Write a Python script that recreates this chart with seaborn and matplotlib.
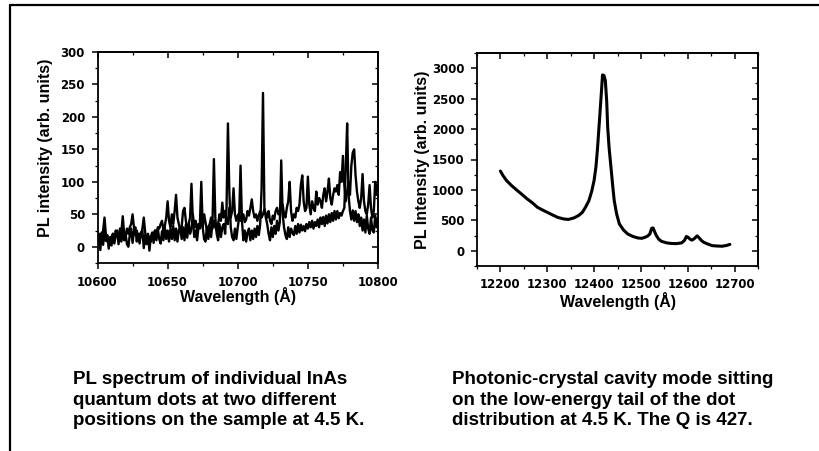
import numpy as np
import pandas as pd
import matplotlib
matplotlib.use("Agg")
import matplotlib.pyplot as plt
from matplotlib.lines import Line2D
from matplotlib.ticker import MultipleLocator
import seaborn as sns

sns.set_theme(style="white")
plt.rcParams['font.family'] = ['Liberation Sans', 'DejaVu Sans']
plt.rcParams['text.color'] = 'black'
plt.rcParams['axes.labelcolor'] = 'black'
plt.rcParams['xtick.color'] = 'black'
plt.rcParams['ytick.color'] = 'black'

# ---------------- data: left panel (two quantum-dot spectra) ----------------
wl_left = list(range(10600, 10801))
dot_a = [8, 20, -5, 22, 3, 25, 9, 18, -3, 15,
         2, 20, 5, 18, 25, 4, 22, 8, 26, 10,
         20, 4, 0, 18, 28, 6, 24, 30, 8, 20,
         5, 22, 25, -2, 18, 4, 20, -6, 15, 22,
         6, 25, 10, 28, 12, 5, 24, 10, 30, 12,
         25, 8, 28, 12, 32, 10, 28, 8, 26, 30,
         12, 30, 10, 34, 14, 35, 45, 97, 40, 15,
         25, 10, 30, 35, 100, 30, 12, 8, 30, 12,
         32, 15, 38, 135, 45, 20, 10, 35, 15, 30,
         35, 20, 60, 190, 85, 30, 15, 10, 28, 12,
         30, 45, 125, 40, 10, 25, 8, 22, 28, 10,
         25, 12, 28, 15, 32, 18, 35, 90, 237, 60,
         45, 35, 20, 10, 30, 15, 32, 20, 40, 25,
         38, 133, 50, 30, 18, 12, 30, 15, 28, 22,
         18, 32, 20, 35, 22, 34, 25, 32, 24, 35,
         28, 38, 30, 40, 28, 38, 32, 42, 30, 45,
         35, 46, 32, 48, 36, 50, 38, 52, 40, 55,
         42, 55, 44, 52, 48, 55, 60, 120, 190, 80,
         55, 42, 56, 40, 55, 38, 50, 32, 45, 25,
         42, 22, 48, 28, 20, 45, 25, 22, 48, 30,
         45]
dot_b = [5, 15, 20, 10, 25, 45, 18, 8, 12, 5,
         15, 20, 10, 25, 18, 12, 28, 22, 47, 20,
         15, 28, 20, 30, 35, 50, 30, 18, 25, 12,
         20, 15, 28, 45, 22, 10, 18, 12, 8, 15,
         20, 25, 18, 30, 28, 35, 40, 25, 32, 45,
         70, 40, 30, 50, 35, 55, 80, 45, 35, 25,
         30, 55, 60, 40, 25, 35, 20, 28, 50, 30,
         40, 25, 35, 28, 45, 30, 50, 38, 25, 30,
         35, 45, 28, 40, 30, 25, 35, 50, 40, 68,
         45, 55, 40, 35, 60, 45, 55, 90, 50, 40,
         48, 52, 40, 45, 50, 38, 42, 55, 48, 60,
         73, 55, 45, 50, 40, 48, 55, 45, 50, 58,
         50, 45, 55, 40, 35, 48, 42, 55, 60, 50,
         55, 60, 65, 50, 45, 60, 70, 100, 55, 40,
         50, 45, 60, 55, 65, 95, 110, 70, 55, 60,
         108, 65, 50, 70, 60, 55, 85, 65, 75, 70,
         60, 80, 90, 70, 85, 105, 75, 65, 80, 90,
         85, 95, 80, 115, 100, 140, 95, 70, 85, 100,
         80, 125, 145, 150, 110, 85, 70, 60, 75, 112,
         70, 55, 50, 65, 95, 60, 45, 55, 100, 80,
         95]

# ---------------- data: right panel (cavity mode) ----------------
wl_right = [12200, 12206, 12213, 12224, 12236, 12247, 12257, 12268, 12279, 12290,
            12300, 12311, 12322, 12335, 12345, 12357, 12367, 12375, 12382, 12389,
            12395, 12400, 12404, 12407, 12410, 12413, 12416, 12418, 12421, 12424,
            12427, 12429, 12432, 12436, 12440, 12443, 12448, 12454, 12463, 12472,
            12483, 12494, 12502, 12508, 12514, 12519, 12523, 12526, 12530, 12533,
            12538, 12544, 12555, 12565, 12576, 12587, 12593, 12597, 12601, 12605,
            12609, 12614, 12620, 12624, 12629, 12634, 12643, 12652, 12663, 12674,
            12684, 12690]
pl_right = [1310, 1230, 1155, 1070, 990, 920, 853, 790, 715, 670,
            632, 590, 550, 523, 515, 540, 580, 632, 720, 825,
            980, 1155, 1380, 1650, 1980, 2310, 2650, 2890, 2880, 2800,
            2450, 2035, 1700, 1375, 1050, 825, 610, 440, 340, 275,
            235, 210, 205, 220, 240, 275, 370, 375, 300, 250,
            190, 155, 130, 120, 118, 130, 170, 235, 220, 190,
            175, 200, 245, 215, 170, 140, 110, 85, 78, 75,
            90, 105]

xtick_left = [10600, 10650, 10700, 10750, 10800]
ytick_left = [0, 50, 100, 150, 200, 250, 300]
xtick_right = [12200, 12300, 12400, 12500, 12600, 12700]
ytick_right = [0, 500, 1000, 1500, 2000, 2500, 3000]

left_df = pd.DataFrame({"wl": wl_left + wl_left,
                        "pl": dot_a + dot_b,
                        "dot": ["A"] * len(wl_left) + ["B"] * len(wl_left)})
right_df = pd.DataFrame({"wl": wl_right, "pl": pl_right})

# ---------------- figure ----------------
W, H = 819, 451
fig = plt.figure(figsize=(W / 100, H / 100), dpi=100)
fig.patch.set_facecolor("white")


def box(x0, y0, x1, y1):
    return [x0 / W, 1 - y1 / H, (x1 - x0) / W, (y1 - y0) / H]


axL = fig.add_axes(box(97.5, 52, 378, 263))
axR = fig.add_axes(box(477, 53, 758, 266))

sns.lineplot(data=left_df, x="wl", y="pl", units="dot", estimator=None,
             color="black", lw=1.7, ax=axL, legend=False)
sns.lineplot(data=right_df, x="wl", y="pl", color="black", lw=2.2, ax=axR,
             legend=False)

TICKFONT = ['DejaVu Sans']


def style(ax, xt, yt, xminor, yminor, xlim, ylim):
    ax.set_facecolor("white")
    ax.grid(False)
    ax.set_xlim(*xlim)
    ax.set_ylim(*ylim)
    for s in ax.spines.values():
        s.set_visible(True)
        s.set_color("black")
        s.set_linewidth(1.3)
    ax.set_xticks(xt)
    ax.set_yticks(yt)
    ax.xaxis.set_minor_locator(MultipleLocator(xminor))
    ax.yaxis.set_minor_locator(MultipleLocator(yminor))
    ax.tick_params(which="both", direction="out", bottom=True, left=True,
                   top=False, right=False, colors="black")
    ax.tick_params(which="major", length=4, width=1.1, pad=5)
    ax.tick_params(which="minor", length=2.5, width=0.9)
    ax.set_xticklabels([str(v) for v in xt], fontsize=8.5, fontweight="bold",
                       family=TICKFONT)
    ax.set_yticklabels([str(v) for v in yt], fontsize=8.5, fontweight="bold",
                       family=TICKFONT)
    # mirrored inward ticks on top / right
    top = ax.secondary_xaxis('top')
    top.set_xticks(xt)
    top.xaxis.set_minor_locator(MultipleLocator(xminor))
    top.tick_params(which="both", direction="in", labeltop=False, colors="black")
    top.tick_params(which="major", length=4, width=1.1)
    top.tick_params(which="minor", length=2.5, width=0.9)
    top.spines['top'].set_linewidth(1.3)
    right = ax.secondary_yaxis('right')
    right.set_yticks(yt)
    right.yaxis.set_minor_locator(MultipleLocator(yminor))
    right.tick_params(which="both", direction="in", labelright=False, colors="black")
    right.tick_params(which="major", length=4, width=1.1)
    right.tick_params(which="minor", length=2.5, width=0.9)
    right.spines['right'].set_linewidth(1.3)


style(axL, xtick_left, ytick_left, 25, 25, (10600, 10800), (-25, 300))
style(axR, xtick_right, ytick_right, 50, 250, (12150, 12750), (-250, 3250))

label_font = dict(fontsize=11.5, fontweight="bold")
axL.set_xlabel("Wavelength (Å)", va="center", **label_font)
axL.xaxis.set_label_coords(0.5, (263 - 296) / 211)
axL.set_ylabel("PL intensity (arb. units)", va="center", **label_font)
axL.yaxis.set_label_coords((46 - 97.5) / 280.5, 0.547)
axR.set_xlabel("Wavelength (Å)", va="center", **label_font)
axR.xaxis.set_label_coords(0.5, (266 - 301) / 213)
axR.set_ylabel("PL Intensity (arb. units)", va="center", **label_font)
axR.yaxis.set_label_coords((422.5 - 477) / 281, 0.498)

cap_left = ["PL spectrum of individual InAs",
            "quantum dots at two different",
            "positions on the sample at 4.5 K."]
cap_right = ["Photonic-crystal cavity mode sitting",
             "on the low-energy tail of the dot",
             "distribution at 4.5 K. The Q is 427."]
baselines = [384, 405, 425]
for txt_l, txt_r, yb in zip(cap_left, cap_right, baselines):
    fig.text(73 / W, 1 - yb / H, txt_l, fontsize=13.5, fontweight="bold",
             va="baseline", ha="left", color="black")
    fig.text(452 / W, 1 - yb / H, txt_r, fontsize=13.5, fontweight="bold",
             va="baseline", ha="left", color="black")

# frame lines (top and left)
fig.add_artist(Line2D([10 / W, 1], [1 - 4.5 / H, 1 - 4.5 / H], color="black",
                      lw=1.6, transform=fig.transFigure))
fig.add_artist(Line2D([10 / W, 10 / W], [0, 1 - 4.5 / H], color="black",
                      lw=1.6, transform=fig.transFigure))

fig.savefig("out.png", dpi=100, facecolor="white")
